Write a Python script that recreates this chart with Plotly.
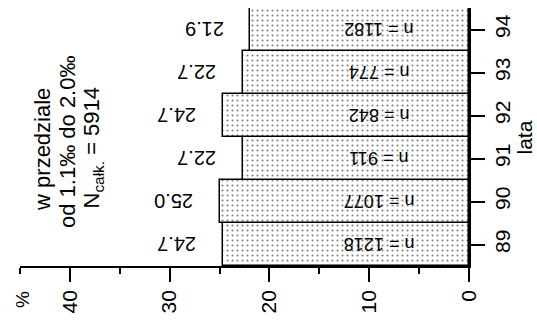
import plotly.graph_objects as go

# Share of results per year (percent) and sample sizes
years = [89, 90, 91, 92, 93, 94]
percent = [24.7, 25.0, 22.7, 24.7, 22.7, 21.9]
counts = [1218, 1077, 911, 842, 774, 1182]
value_ticks = [0, 10, 20, 30, 40]

FONT = "Liberation Sans, Arial, sans-serif"

fig = go.Figure()
fig.add_trace(go.Bar(
    y=years,
    x=percent,
    orientation="h",
    width=1.0,
    marker=dict(
        color="white",
        line=dict(color="black", width=1.5),
        pattern=dict(shape=".", fgcolor="black", bgcolor="white", size=5, solidity=0.14),
    ),
    showlegend=False,
    hoverinfo="skip",
))

annotations = []
for yr, p, n in zip(years, percent, counts):
    # percentage beyond the bar end, printed upside down
    annotations.append(dict(
        x=p, y=yr, xref="x", yref="y", text=f"{p:.1f}", showarrow=False,
        textangle=180, xshift=-46, font=dict(family=FONT, size=20, color="black"),
    ))
    # sample size inside the bar
    annotations.append(dict(
        x=9.0, y=yr, xref="x", yref="y", text=f"n = {n}", showarrow=False,
        textangle=180, font=dict(family=FONT, size=18, color="black"),
    ))

# pixel-placed helpers (converted to paper coordinates below)
W, H = 537, 322
L, R, T, B = 20, 68, 8, 49
pw, ph = W - L - R, H - T - B


def paper(px, py):
    return (px - L) / pw, 1 - (py - T) / ph


# descriptive block, three rotated lines; each line starts at its bottom end
block = [
    ("w przedziale", 43, 219),
    ("od 1.1‰ do 2.0‰", 68, 236),
    ("N<sub>całk.</sub> = 5914", 93, 216),
]
for txt, xp, yp in block:
    px, py = paper(xp, yp)
    annotations.append(dict(
        x=px, y=py, xref="paper", yref="paper", xanchor="center", yanchor="bottom",
        text=txt, showarrow=False, textangle=-90,
        font=dict(family=FONT, size=22, color="black"),
    ))

px, py = paper(22, 308)
annotations.append(dict(
    x=px, y=py, xref="paper", yref="paper", xanchor="center", yanchor="middle",
    text="%", showarrow=False, textangle=-90,
    font=dict(family=FONT, size=19, color="black"),
))
px, py = paper(524, 141)
annotations.append(dict(
    x=px, y=py, xref="paper", yref="paper", xanchor="center", yanchor="middle",
    text="lata", showarrow=False, textangle=-90,
    font=dict(family=FONT, size=21, color="black"),
))

fig.update_layout(
    width=W, height=H,
    margin=dict(l=L, r=R, t=T, b=B, pad=0),
    paper_bgcolor="white", plot_bgcolor="white",
    bargap=0,
    annotations=annotations,
    font=dict(family=FONT, color="black"),
    xaxis=dict(
        range=[45, 0],
        tickvals=value_ticks,
        ticktext=[str(v) for v in value_ticks],
        ticks="outside", ticklen=14, tickwidth=1.5, tickcolor="black",
        minor=dict(dtick=5, tick0=0, ticks="outside", ticklen=6, tickwidth=1.5, tickcolor="black", showgrid=False),
        tickangle=-90,
        tickfont=dict(family=FONT, size=21, color="black"),
        showline=True, linecolor="black", linewidth=1.5,
        showgrid=False, zeroline=False, fixedrange=True,
    ),
    yaxis=dict(
        range=[88.5, 94.5],
        side="right",
        tickvals=years,
        ticktext=[str(y) for y in years],
        ticks="outside", ticklen=14, tickwidth=1.5, tickcolor="black",
        tickangle=-90,
        tickfont=dict(family=FONT, size=21, color="black"),
        showline=True, linecolor="black", linewidth=1.5,
        showgrid=False, zeroline=False, fixedrange=True,
    ),
)

fig.write_html("out.html", config={"displayModeBar": False})
